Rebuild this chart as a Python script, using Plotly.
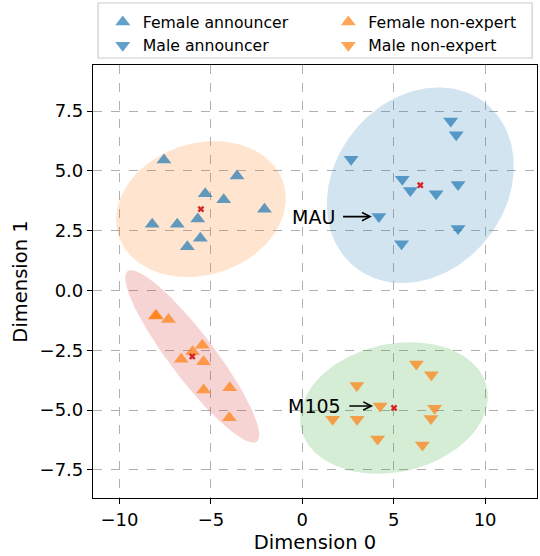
import numpy as np
import plotly.graph_objects as go

# Female announcer (upward triangles, blue)
fa_x = [-7.57, -3.57, -5.31, -4.30, -2.07, -8.21, -6.84, -5.72, -5.58, -6.29]
fa_y = [5.46, 4.79, 4.04, 3.79, 3.40, 2.77, 2.77, 2.99, 2.18, 1.83]

# Male announcer (downward triangles, blue)
ma_x = [8.12, 8.42, 2.67, 5.47, 5.91, 7.32, 8.52, 4.19, 8.52, 5.43]
ma_y = [7.09, 6.51, 5.49, 4.65, 4.18, 4.04, 4.43, 3.09, 2.59, 1.95]

# Female non-expert (upward triangles, orange)
fn_x = [-8.03, -8.00, -7.32, -5.47, -6.00, -6.62, -5.40, -5.40, -3.97, -3.99]
fn_y = [-1.07, -1.05, -1.21, -2.29, -2.56, -2.88, -2.98, -4.16, -4.07, -5.32]

# Male non-expert (downward triangles, orange)
mn_x = [6.24, 7.06, 2.98, 4.26, 7.24, 7.04, 1.66, 3.00, 4.12, 6.57]
mn_y = [-3.08, -3.52, -3.97, -4.83, -4.93, -5.35, -5.39, -5.39, -6.21, -6.46]

# labelled speakers: index into their group
mau_idx = 7
m105_idx = 3

BLUE = "#1f77b4"
ORANGE = "#ff7f0e"


def rgba(hex_color, a):
    h = hex_color.lstrip("#")
    r, g, b = int(h[0:2], 16), int(h[2:4], 16), int(h[4:6], 16)
    return f"rgba({r},{g},{b},{a})"


def conf_ellipse(xs, ys, n_std=2.5, npts=200):
    x = np.asarray(xs)
    y = np.asarray(ys)
    vals, vecs = np.linalg.eigh(np.cov(x, y))
    t = np.linspace(0, 2 * np.pi, npts)
    circ = np.stack([np.cos(t), np.sin(t)])
    pts = vecs @ (np.sqrt(vals)[:, None] * circ) * n_std
    return pts[0] + x.mean(), pts[1] + y.mean()


# name, x, y, marker symbol, marker colour, ellipse colour, legend column
groups = [
    ("Female announcer", fa_x, fa_y, "triangle-up", BLUE, "#ff7f0e", "legend"),
    ("Male announcer", ma_x, ma_y, "triangle-down", BLUE, "#1f77b4", "legend"),
    ("Female non-expert", fn_x, fn_y, "triangle-up", ORANGE, "#d62728", "legend2"),
    ("Male non-expert", mn_x, mn_y, "triangle-down", ORANGE, "#2ca02c", "legend2"),
]

fig = go.Figure()

for name, xs, ys, sym, col, ecol, leg in groups:
    ex, ey = conf_ellipse(xs, ys)
    fig.add_trace(go.Scatter(x=ex, y=ey, mode="lines", fill="toself",
                             fillcolor=rgba(ecol, 0.2), line=dict(width=0),
                             hoverinfo="skip", showlegend=False))

for name, xs, ys, sym, col, ecol, leg in groups:
    fig.add_trace(go.Scatter(x=xs, y=ys, mode="markers", name=name, legend=leg,
                             marker=dict(symbol=sym, size=13, color=rgba(col, 0.7),
                                         line=dict(width=0))))

for name, xs, ys, sym, col, ecol, leg in groups:
    fig.add_trace(go.Scatter(x=[np.mean(xs)], y=[np.mean(ys)], mode="markers",
                             marker=dict(symbol="x", size=6, color="#d62728",
                                         line=dict(width=0)),
                             showlegend=False, hoverinfo="skip"))

for label, xs, ys, i in [("MAU", ma_x, ma_y, mau_idx), ("M105", mn_x, mn_y, m105_idx)]:
    fig.add_annotation(x=xs[i], y=ys[i], text=label, showarrow=True,
                       ax=xs[i] - 3.6, ay=ys[i], axref="x", ayref="y",
                       arrowhead=5, arrowsize=1, arrowwidth=1.6, arrowcolor="black",
                       standoff=7, startstandoff=7, font=dict(size=19, color="black"))

axis_common = dict(showline=True, linecolor="black", linewidth=1.2, mirror=True,
                   ticks="outside", ticklen=5, tickwidth=1.2, tickcolor="black",
                   showgrid=True, gridcolor="#b0b0b0", griddash="dash", gridwidth=1.2,
                   zeroline=False, tickfont=dict(size=18, color="black"))

fig.update_xaxes(range=[-11.45, 12.84], tickvals=[-10, -5, 0, 5, 10],
                 ticktext=["\u221210", "\u22125", "0", "5", "10"],
                 title=dict(text="Dimension 0", font=dict(size=19.5, color="black"), standoff=6),
                 **axis_common)
fig.update_yaxes(range=[-8.68, 9.43], tickvals=[-7.5, -5, -2.5, 0, 2.5, 5, 7.5],
                 ticktext=["\u22127.5", "\u22125.0", "\u22122.5", "0.0", "2.5", "5.0", "7.5"],
                 title=dict(text="Dimension 1", font=dict(size=19.5, color="black"), standoff=6),
                 **axis_common)

# legend frame drawn as one box around both legend columns
fig.add_shape(type="rect", xref="paper", yref="paper",
              x0=0.0113, x1=0.989, y0=1.0162, y1=1.1432,
              line=dict(color="#cccccc", width=1.2), fillcolor="white")

leg_common = dict(y=1.138, yanchor="top", xanchor="left", font=dict(size=15.7),
                  borderwidth=0, bgcolor="rgba(0,0,0,0)", tracegroupgap=0)

fig.update_layout(
    width=540, height=556,
    margin=dict(l=93, r=3, t=65, b=58, autoexpand=False),
    plot_bgcolor="white", paper_bgcolor="white",
    font=dict(family="DejaVu Sans", color="black"),
    legend=dict(x=0.022, **leg_common),
    legend2=dict(x=0.53, **leg_common),
)

fig.write_html("out.html", config={"displayModeBar": False},
               post_script="document.body.style.margin='0';")
